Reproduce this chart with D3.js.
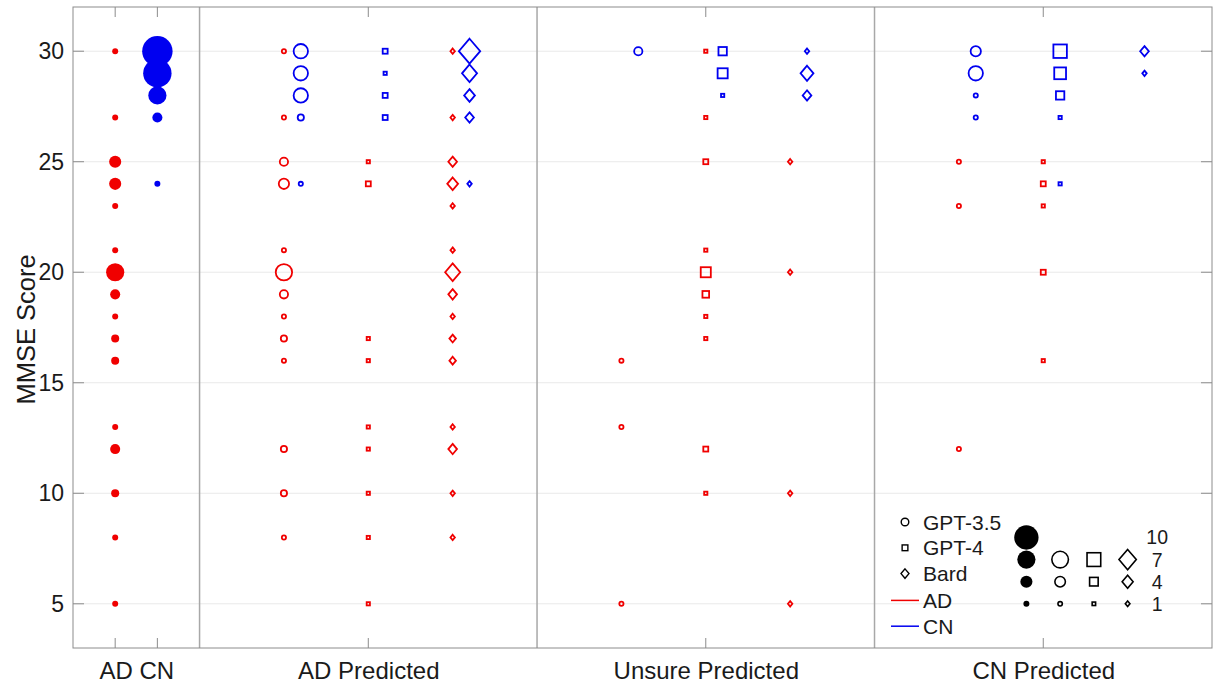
<!DOCTYPE html>
<html lang="en">
<head>
    <title>MMSE Score by prediction</title>
    <script src="https://d3js.org/d3.v7.min.js"></script>
    <style>
        body { margin: 0; background: #fff; }
        svg text { font-family: "Liberation Sans", Arial, Helvetica, sans-serif; fill: #1a1a1a; }
    </style>
</head>
<body>
    <svg id="chart"></svg>

    <script>
        var width = 1213;
        var height = 684;
        var margins = { left: 73, right: 1, top: 7, bottom: 36 };

        // x categories: group label and its centre (in x units)
        var groupLabels = ["AD CN", "AD Predicted", "Unsure Predicted", "CN Predicted"];
        var groupCenters = [1.5, 7, 15, 23];
        var predClasses = ["AD", "Unsure", "CN"];
        var models = ["GPT-3.5", "GPT-4", "Bard"];
        var modelShapes = ["circle", "square", "diamond"];
        var yTicks = [5, 10, 15, 20, 25, 30];
        var sizeKeys = [10, 7, 4, 1];

        // ground truth: [MMSE score, number of subjects]
        var truthAD = [[30,1],[27,1],[25,4],[24,4],[23,1],[21,1],[20,7],[19,3],[18,1],[17,2],[16,2],[13,1],[12,3],[10,2],[8,1],[5,1]];
        var truthCN = [[30,13],[29,12],[28,7],[27,3],[24,1]];

        // predictions: [predicted class, true class, MMSE score, count]
        var gpt35 = [
            ["AD","AD",30,1],["AD","AD",27,1],["AD","AD",25,3],["AD","AD",24,4],["AD","AD",21,1],["AD","AD",20,7],
            ["AD","AD",19,3],["AD","AD",18,1],["AD","AD",17,2],["AD","AD",16,1],["AD","AD",12,2],["AD","AD",10,2],["AD","AD",8,1],
            ["AD","CN",30,6],["AD","CN",29,6],["AD","CN",28,6],["AD","CN",27,2],["AD","CN",24,1],
            ["Unsure","AD",16,1],["Unsure","AD",13,1],["Unsure","AD",5,1],
            ["Unsure","CN",30,3],
            ["CN","AD",25,1],["CN","AD",23,1],["CN","AD",12,1],
            ["CN","CN",30,4],["CN","CN",29,6],["CN","CN",28,1],["CN","CN",27,1]
        ];
        var gpt4 = [
            ["AD","AD",25,1],["AD","AD",24,2],["AD","AD",17,1],["AD","AD",16,1],["AD","AD",13,1],["AD","AD",12,1],
            ["AD","AD",10,1],["AD","AD",8,1],["AD","AD",5,1],
            ["AD","CN",30,2],["AD","CN",29,1],["AD","CN",28,2],["AD","CN",27,2],
            ["Unsure","AD",30,1],["Unsure","AD",27,1],["Unsure","AD",25,2],["Unsure","AD",21,1],["Unsure","AD",20,5],
            ["Unsure","AD",19,3],["Unsure","AD",18,1],["Unsure","AD",17,1],["Unsure","AD",12,2],["Unsure","AD",10,1],
            ["Unsure","CN",30,4],["Unsure","CN",29,5],["Unsure","CN",28,1],
            ["CN","AD",25,1],["CN","AD",24,2],["CN","AD",23,1],["CN","AD",20,2],["CN","AD",16,1],
            ["CN","CN",30,7],["CN","CN",29,6],["CN","CN",28,4],["CN","CN",27,1],["CN","CN",24,1]
        ];
        var bard = [
            ["AD","AD",30,1],["AD","AD",27,1],["AD","AD",25,3],["AD","AD",24,4],["AD","AD",23,1],["AD","AD",21,1],
            ["AD","AD",20,6],["AD","AD",19,3],["AD","AD",18,1],["AD","AD",17,2],["AD","AD",16,2],["AD","AD",13,1],
            ["AD","AD",12,3],["AD","AD",10,1],["AD","AD",8,1],
            ["AD","CN",30,9],["AD","CN",29,6],["AD","CN",28,4],["AD","CN",27,3],["AD","CN",24,1],
            ["Unsure","AD",25,1],["Unsure","AD",20,1],["Unsure","AD",10,1],["Unsure","AD",5,1],
            ["Unsure","CN",30,1],["Unsure","CN",29,5],["Unsure","CN",28,3],
            ["CN","CN",30,3],["CN","CN",29,1]
        ];
        var modelData = [gpt35, gpt4, bard];

        var classColor = { AD: "#f00000", CN: "#0000f0" };

        var x = d3.scaleLinear()
            .domain([0, 27])
            .range([margins.left, width - margins.right]);
        var y = d3.scaleLinear()
            .domain([3, 32])
            .range([height - margins.bottom, margins.top]);
        // marker outer size grows with count
        var size = d3.scaleLinear()
            .domain([1, 10])
            .range([6, 24.3]);

        var svg = d3.select("#chart")
            .attr("width", width)
            .attr("height", height);

        var x0 = x(0), x1 = x(27), yTop = y(32), yBot = y(3);

        // grid
        svg.append("g").selectAll("line")
            .data(yTicks).enter().append("line")
            .attr("x1", x0).attr("x2", x1)
            .attr("y1", function (d) { return y(d); })
            .attr("y2", function (d) { return y(d); })
            .attr("stroke", "#e9e9e9").attr("stroke-width", 1);

        // separators between groups
        svg.append("g").selectAll("line")
            .data([3, 11, 19]).enter().append("line")
            .attr("x1", function (d) { return x(d); })
            .attr("x2", function (d) { return x(d); })
            .attr("y1", yTop).attr("y2", yBot)
            .attr("stroke", "#a8a8a8").attr("stroke-width", 1.5);

        // left axis with inward ticks
        var yaxis = d3.axisLeft(y).tickValues(yTicks).tickSize(0).tickPadding(9);
        var gy = svg.append("g")
            .attr("transform", "translate(" + x0 + ",0)")
            .call(yaxis);
        gy.select(".domain").remove();
        gy.selectAll("text").style("font-size", "23px").attr("fill", "#1a1a1a");

        var xaxis = d3.axisBottom(x).tickValues(groupCenters).tickSize(0).tickPadding(14)
            .tickFormat(function (d, i) { return groupLabels[i]; });
        var gx = svg.append("g")
            .attr("transform", "translate(0," + yBot + ")")
            .call(xaxis);
        gx.select(".domain").remove();
        gx.selectAll("text").style("font-size", "24px").attr("fill", "#1a1a1a");

        // box and tick marks
        var frame = svg.append("g").attr("stroke", "#8c8c8c").attr("stroke-width", 1).attr("fill", "none");
        frame.append("rect")
            .attr("x", x0).attr("y", yTop)
            .attr("width", x1 - x0).attr("height", yBot - yTop);
        yTicks.forEach(function (t) {
            frame.append("line").attr("x1", x0).attr("x2", x0 + 11).attr("y1", y(t)).attr("y2", y(t));
            frame.append("line").attr("x1", x1 - 11).attr("x2", x1).attr("y1", y(t)).attr("y2", y(t));
        });
        [1, 2, 7, 15, 23].forEach(function (t) {
            frame.append("line").attr("x1", x(t)).attr("x2", x(t)).attr("y1", yBot).attr("y2", yBot - 10);
            frame.append("line").attr("x1", x(t)).attr("x2", x(t)).attr("y1", yTop).attr("y2", yTop + 10);
        });

        svg.append("text")
            .attr("transform", "translate(35," + ((yTop + yBot) / 2 + 2) + ") rotate(-90)")
            .attr("text-anchor", "middle")
            .style("font-size", "25.5px")
            .text("MMSE Score");

        // draw one marker; d = outer size in px
        function marker(g, shape, cx, cy, d, color, filled, sw) {
            sw = filled ? 0 : (sw || 1.8);
            if (shape === "circle") {
                return g.append("circle")
                    .attr("cx", cx).attr("cy", cy)
                    .attr("r", filled ? d / 2 : Math.max(d / 2 - sw / 2, 1.2))
                    .attr("fill", filled ? color : "none")
                    .attr("stroke", color).attr("stroke-width", sw);
            }
            if (shape === "square") {
                var s = Math.max(0.84 * d - sw, 2.4);
                return g.append("rect")
                    .attr("x", cx - s / 2).attr("y", cy - s / 2)
                    .attr("width", s).attr("height", s)
                    .attr("fill", "none")
                    .attr("stroke", color).attr("stroke-width", sw);
            }
            var hw = Math.max(0.52 * d - sw / 2, 1.6), hh = Math.max(0.6 * d - sw / 2, 1.8);
            return g.append("path")
                .attr("d", "M" + cx + "," + (cy - hh) + "L" + (cx + hw) + "," + cy +
                           "L" + cx + "," + (cy + hh) + "L" + (cx - hw) + "," + cy + "Z")
                .attr("fill", "none")
                .attr("stroke", color).attr("stroke-width", sw);
        }

        var marks = svg.append("g");

        // ground truth columns (filled circles)
        truthAD.forEach(function (p) {
            marker(marks, "circle", x(1), y(p[0]), size(p[1]), classColor.AD, true);
        });
        truthCN.forEach(function (p) {
            marker(marks, "circle", x(2), y(p[0]), size(p[1]), classColor.CN, true);
        });

        // prediction columns
        modelData.forEach(function (rows, m) {
            rows.forEach(function (r) {
                var g = predClasses.indexOf(r[0]);
                var cx = x(groupCenters[g + 1] + (m - 1) * 2 + (r[1] === "CN" ? 0.4 : 0));
                marker(marks, modelShapes[m], cx, y(r[2]), size(r[3]), classColor[r[1]], false);
            });
        });

        // legend: models and classes
        var leg = svg.append("g");
        var legX = 905, legTextX = 923, legY0 = 522, legStep = 25.8;
        models.forEach(function (name, i) {
            var cy = legY0 + i * legStep;
            var shape = modelShapes[i];
            marker(leg, shape, legX, cy, shape === "square" ? 8.5 : 9, "#000", false, 1.4);
            leg.append("text").attr("x", legTextX).attr("y", cy + 7.5)
                .style("font-size", "21px").text(name);
        });
        ["AD", "CN"].forEach(function (c, i) {
            var cy = legY0 + (3 + i) * legStep + 1;
            leg.append("line").attr("x1", 891).attr("x2", 919).attr("y1", cy).attr("y2", cy)
                .attr("stroke", classColor[c]).attr("stroke-width", 1.5);
            leg.append("text").attr("x", legTextX).attr("y", cy + 7.5)
                .style("font-size", "21px").text(c);
        });

        // legend: marker size key
        var keyCols = [22.6, 23.4, 24.2, 25.0];
        sizeKeys.forEach(function (k, i) {
            var cy = y(8 - i);
            marker(leg, "circle", x(keyCols[0]), cy, size(k), "#000", true);
            if (k !== 10) {
                modelShapes.forEach(function (shape, j) {
                    marker(leg, shape, x(keyCols[j + 1]), cy, size(k), "#000", false, 1.6);
                });
            }
            leg.append("text").attr("x", x(25.7)).attr("y", cy + 7)
                .attr("text-anchor", "middle")
                .style("font-size", "19.5px").text(k);
        });
    </script>
</body>
</html>
